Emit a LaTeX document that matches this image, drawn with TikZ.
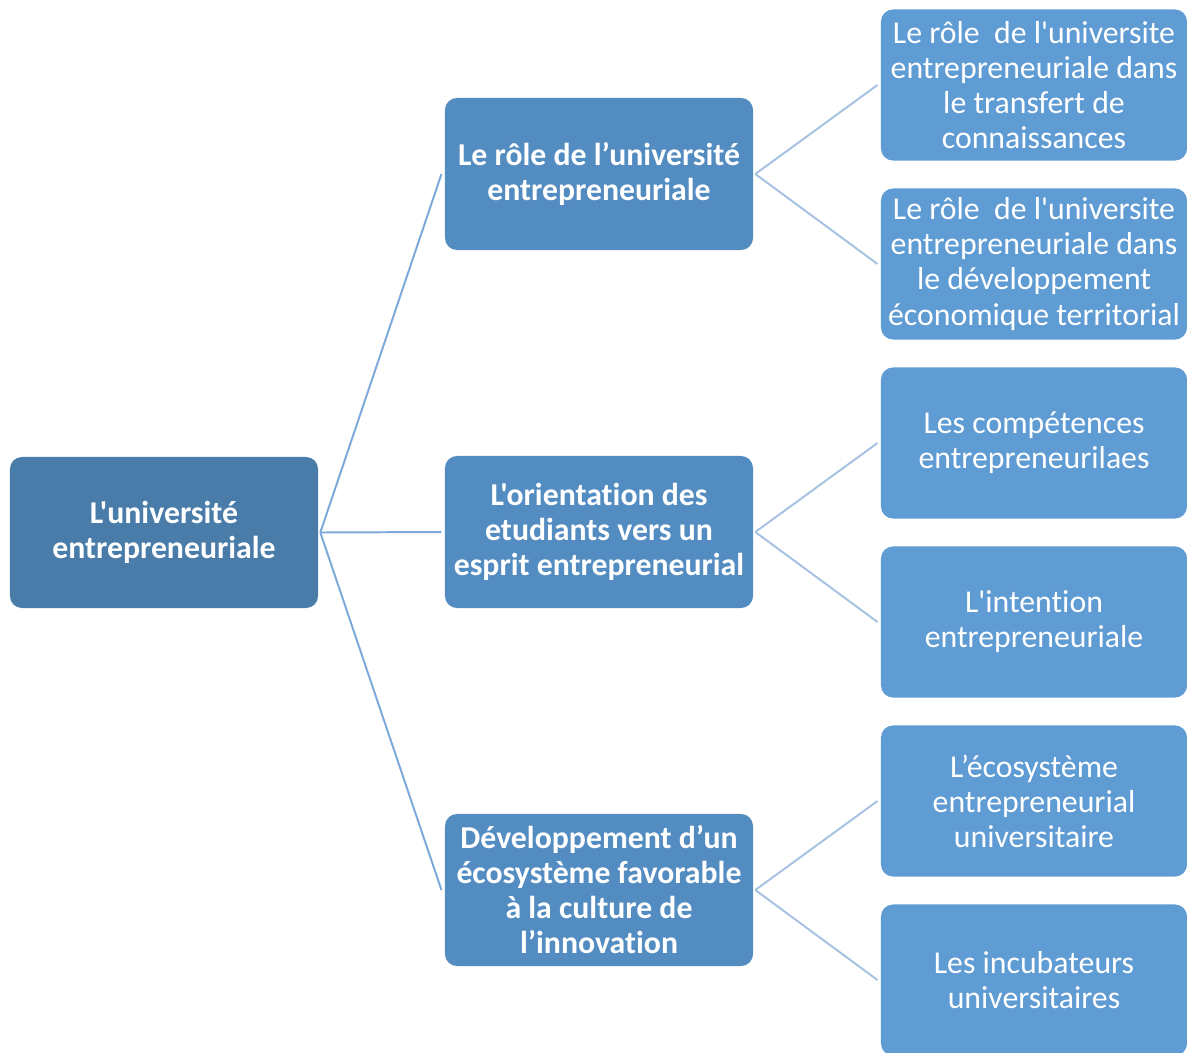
\documentclass[tikz,border=0pt]{standalone}
\usepackage{fontspec}
\setmainfont{Carlito}[Ligatures={TeXOff,NoCommon}]
\definecolor{rootc}{RGB}{73,124,169}
\definecolor{midc}{RGB}{83,140,193}
\definecolor{leafc}{RGB}{96,156,212}
\definecolor{lineA}{RGB}{125,168,218}
\definecolor{lineB}{RGB}{166,194,226}
\tikzset{
  box/.style={rounded corners=0.3cm, text=white, align=center, inner sep=0pt,
    font=\fontsize{22.6}{24.9}\selectfont},
  rootbox/.style={box, fill=rootc, minimum width=7.7cm, minimum height=3.775cm, font=\fontsize{22.6}{24.9}\selectfont\bfseries},
  midbox/.style={box, fill=midc, minimum width=7.7cm, minimum height=3.8cm, font=\fontsize{22.6}{24.9}\selectfont\bfseries},
  leafbox/.style={box, fill=leafc, minimum width=7.65cm, minimum height=3.775cm},
  linkA/.style={draw=lineA, line width=1.4pt},
  linkB/.style={draw=lineB, line width=1.4pt},
}
\begin{document}
\begin{tikzpicture}[x=0.025cm,y=-0.025cm]
\useasboundingbox (0,0) rectangle (1187,1052);
\node[rootbox] (r) at (164,532.5) {L'université\\entrepreneuriale};
\node[midbox] (m1) at (599,174) {Le rôle de l’université\\entrepreneuriale};
\node[midbox] (m2) at (599,532) {L'orientation des\\etudiants vers un\\esprit entrepreneurial};
\node[midbox] (m3) at (599,890) {Développement d’un\\écosystème favorable\\à la culture de\\l’innovation};
\node[leafbox] (l1) at (1034,85) {Le rôle~ de l'universite\\entrepreneuriale dans\\le transfert de\\connaissances};
\node[leafbox] (l2) at (1034,264) {Le rôle~ de l'universite\\entrepreneuriale dans\\le développement\\économique territorial};
\node[leafbox] (l3) at (1034,443) {Les compétences\\entrepreneurilaes};
\node[leafbox] (l4) at (1034,622) {L'intention\\entrepreneuriale};
\node[leafbox] (l5) at (1034,801) {L’écosystème\\entrepreneurial\\universitaire};
\node[leafbox] (l6) at (1034,980) {Les incubateurs\\universitaires};
\coordinate (rr) at ([xshift=0.05cm]r.east);
\path[linkA] (rr) -- ([xshift=-0.08cm]m1.west);
\path[linkA] (rr) -- ([xshift=-0.08cm]m2.west);
\path[linkA] (rr) -- ([xshift=-0.08cm]m3.west);
\foreach \m/\a/\b in {m1/l1/l2, m2/l3/l4, m3/l5/l6}{
  \path[linkB] ([xshift=0.05cm]\m.east) -- ([xshift=-0.08cm]\a.west);
  \path[linkB] ([xshift=0.05cm]\m.east) -- ([xshift=-0.08cm]\b.west);
}
\end{tikzpicture}
\end{document}
